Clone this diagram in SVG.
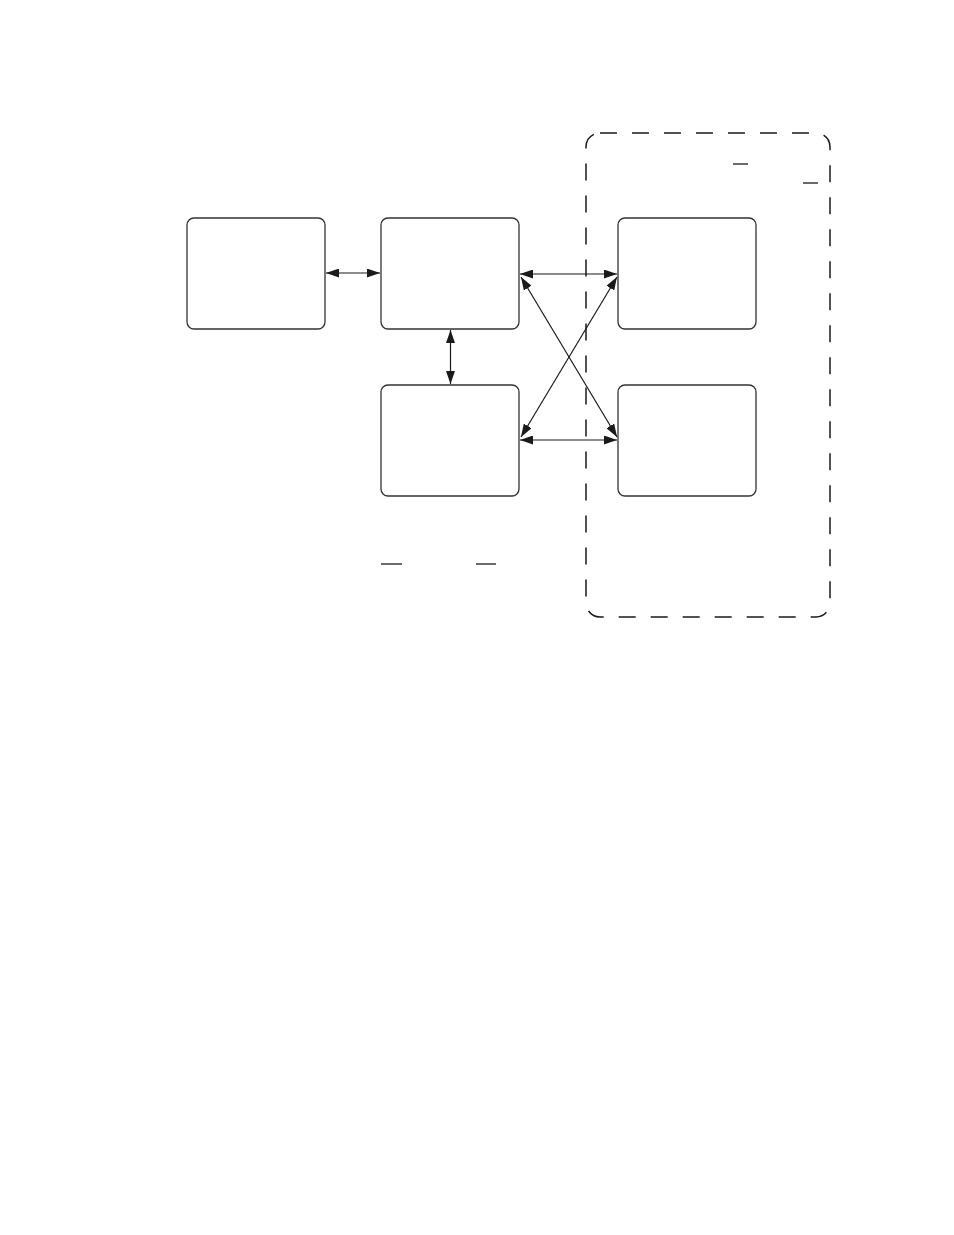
<svg xmlns="http://www.w3.org/2000/svg" width="954" height="1235" viewBox="0 0 954 1235">
<style>
.box{fill:none;stroke:#333;stroke-width:1.3}
.con{stroke:#1a1a1a;stroke-width:1.2;fill:none}
.bar{stroke:#1a1a1a;stroke-width:1.3}
</style>
<defs>
<marker id="ah" viewBox="0 0 13 9" refX="13" refY="4.5" markerWidth="13" markerHeight="9" markerUnits="userSpaceOnUse" orient="auto-start-reverse">
<path d="M0,0 L13,4.5 L0,9 Z" fill="#1a1a1a"/>
</marker>
</defs>
<rect width="954" height="1235" fill="#fff"/>
<g id="group-dashed">
<rect x="586" y="133" width="244" height="484" rx="14" ry="14" fill="none" stroke="#1a1a1a" stroke-width="1.5" stroke-dasharray="17 15"/>
</g>
<g id="node1"><rect class="box" x="187" y="218" width="138" height="111" rx="7"/></g>
<g id="node2"><rect class="box" x="381" y="218" width="138" height="111" rx="7"/></g>
<g id="node3"><rect class="box" x="381" y="385" width="138" height="111" rx="7"/></g>
<g id="node4"><rect class="box" x="618" y="218" width="138" height="111" rx="7"/></g>
<g id="node5"><rect class="box" x="618" y="385" width="138" height="111" rx="7"/></g>
<g id="marks">
<line class="bar" x1="733" y1="164" x2="748" y2="164"/>
<line class="bar" x1="803" y1="183" x2="818" y2="183"/>
<line class="bar" x1="381" y1="564" x2="402" y2="564"/>
<line class="bar" x1="476" y1="564" x2="496" y2="564"/>
</g>
<g id="connectors">
<line class="con" x1="326" y1="273" x2="380" y2="273" marker-start="url(#ah)" marker-end="url(#ah)"/>
<line class="con" x1="450.5" y1="330" x2="450.5" y2="384" marker-start="url(#ah)" marker-end="url(#ah)"/>
<line class="con" x1="520" y1="274" x2="617" y2="274" marker-start="url(#ah)" marker-end="url(#ah)"/>
<line class="con" x1="520" y1="440" x2="617" y2="440" marker-start="url(#ah)" marker-end="url(#ah)"/>
<line class="con" x1="521" y1="277" x2="617" y2="437" marker-start="url(#ah)" marker-end="url(#ah)"/>
<line class="con" x1="521" y1="437" x2="617" y2="277" marker-start="url(#ah)" marker-end="url(#ah)"/>
</g>
</svg>
